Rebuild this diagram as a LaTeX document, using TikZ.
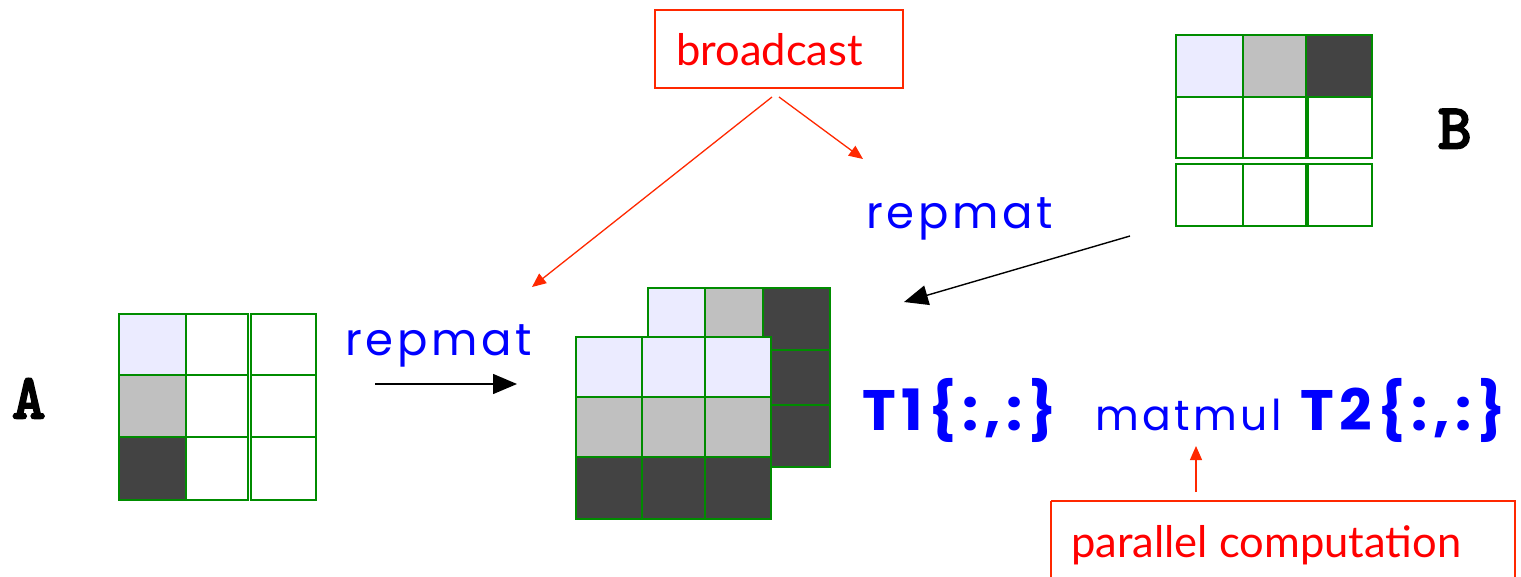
\documentclass[tikz,border=0pt]{standalone}
\usepackage{fontspec}
\setmainfont{Lato}
\newfontfamily\handfont[LetterSpace=8]{Poppins}
\newfontfamily\handbold[LetterSpace=10]{Poppins}
\newfontfamily\redfont{Lato}
\newfontfamily\labelfont[FakeBold=4]{lmmono10-regular.otf}
\usetikzlibrary{arrows.meta}
\definecolor{gridgreen}{RGB}{0,140,0}
\definecolor{celllight}{RGB}{235,235,255}
\definecolor{cellgray}{RGB}{192,192,192}
\definecolor{celldark}{RGB}{67,67,67}
\definecolor{noteRed}{RGB}{255,40,0}
\definecolor{textRed}{RGB}{255,0,0}
\definecolor{codeBlue}{RGB}{0,0,255}
\tikzset{
  cell/.style={draw=gridgreen, line width=1.6pt},
  notebox/.style={draw=noteRed, line width=1.3pt, fill=white},
  noteline/.style={draw=noteRed, line width=1.3pt, -{Triangle[length=14pt,width=12pt]}},
  blackarrow/.style={draw=black, line width=1.4pt, -{Triangle[length=24pt,width=20pt]}},
  codetext/.style={text=codeBlue, inner sep=0pt, anchor=base west, font=\handfont\fontsize{45}{50}\selectfont},
  codesmall/.style={codetext, font=\handfont\fontsize{42.5}{48}\selectfont},
  codebold/.style={text=codeBlue, inner sep=0pt, anchor=base west, font=\handbold\bfseries\fontsize{57}{62}\selectfont},
  redtext/.style={text=textRed, inner sep=0pt, anchor=base west, font=\redfont\fontsize{43.5}{48}\selectfont},
  labeltext/.style={inner sep=0pt, anchor=base west, font=\labelfont\fontsize{63}{66}\selectfont},
}
\begin{document}
\begin{tikzpicture}[x=1pt,y=-1pt]
\useasboundingbox (0,0) rectangle (1521,576);

% ---- Matrix A ----
\filldraw[cell,fill=celllight] (119,314) rectangle (186,375);
\filldraw[cell,fill=cellgray]  (119,375) rectangle (186,437);
\filldraw[cell,fill=celldark]  (119,437) rectangle (186,500);
\foreach \ya/\yb in {314/375,375/437,437/500}{
  \filldraw[cell,fill=white] (186,\ya) rectangle (248,\yb);
  \filldraw[cell,fill=white] (251,\ya) rectangle (316,\yb);
}
\node[labeltext] (labA) at (12,418) {A};

% ---- Stacked matrices (back) ----
\foreach \ya/\yb in {288/350,350/405,405/467}{
  \filldraw[cell,fill=celllight] (648,\ya) rectangle (705,\yb);
  \filldraw[cell,fill=cellgray]  (705,\ya) rectangle (763,\yb);
  \filldraw[cell,fill=celldark]  (763,\ya) rectangle (830,\yb);
}
% ---- Stacked matrices (front) ----
\foreach \xa/\xb in {576/642,642/705,705/771}{
  \filldraw[cell,fill=celllight] (\xa,337) rectangle (\xb,397);
  \filldraw[cell,fill=cellgray]  (\xa,397) rectangle (\xb,457);
  \filldraw[cell,fill=celldark]  (\xa,457) rectangle (\xb,519);
}

% ---- Matrix B ----
\filldraw[cell,fill=celllight] (1176,35) rectangle (1243,97);
\filldraw[cell,fill=cellgray]  (1243,35) rectangle (1306,97);
\filldraw[cell,fill=celldark]  (1306,35) rectangle (1372,97);
\foreach \ya/\yb in {97/158,164/226}{
  \filldraw[cell,fill=white] (1176,\ya) rectangle (1243,\yb);
  \filldraw[cell,fill=white] (1243,\ya) rectangle (1306,\yb);
  \filldraw[cell,fill=white] (1308,\ya) rectangle (1372,\yb);
}
\node[labeltext] (labB) at (1438,148) {B};

% ---- blue texts ----
\node[codetext] (rep1) at (345,355) {repmat};
\node[codetext] (rep2) at (866,228) {repmat};
\node[codebold] (t1) at (862,430) {T1\{:,:\}};
\node[codesmall] (mm) at (1095,430) {matmul};
\node[codebold] (t2) at (1300,430) {T2\{:,:\}};

% ---- black arrows ----
\coordinate (a1s) at (375,384);
\coordinate (a1e) at (517,384);
\draw[blackarrow] (a1s) -- (a1e);
\coordinate (a2s) at (1130,236);
\coordinate (a2e) at (904,302);
\draw[blackarrow] (a2s) -- (a2e);

% ---- broadcast note ----
\draw[notebox] (655,10) rectangle (903,88);
\node[redtext] (bc) at (676,65) {broadcast};
\coordinate (bcL) at (772,97);
\coordinate (bcR) at (779,97);
\coordinate (bcLe) at (532,287);
\coordinate (bcRe) at (863,159);
\draw[noteline] (bcL) -- (bcLe);
\draw[noteline] (bcR) -- (bcRe);

% ---- parallel computation note ----
\draw[notebox] (1051,501) -- (1515,501) -- (1515,590) (1051,501) -- (1051,590);
\node[redtext] (pc) at (1071,557) {parallel computation};
\coordinate (pcs) at (1196,492);
\coordinate (pce) at (1196,446);
\draw[noteline] (pcs) -- (pce);
\end{tikzpicture}
\end{document}
